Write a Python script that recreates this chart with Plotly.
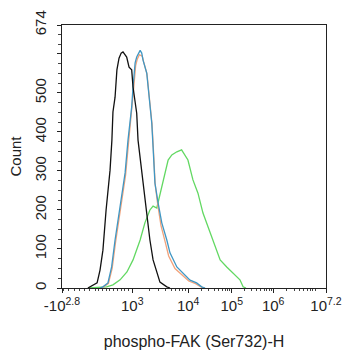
import numpy as np
import plotly.graph_objects as go

# Histogram curves on the biexponential display scale (channel 0..1000), counts per bin
black_ch = [98, 133, 144, 155, 167, 174, 182, 189, 193, 201, 208, 216, 224, 231,
            238, 245, 254, 264, 269, 283, 288, 302, 314, 326, 333, 345, 359, 371, 397, 409]
black_ct = [0, 13, 46, 97, 200, 251, 302, 379, 451, 489, 559, 589, 602, 605,
            598, 592, 566, 559, 515, 448, 379, 295, 226, 156, 123, 72, 38, 15, 3, 0]

blue_ch = [144, 155, 174, 188, 201, 220, 239, 250, 254, 264, 269, 277, 283, 292, 296,
           302, 307, 321, 330, 340, 345, 352, 364, 378, 397, 409, 435, 458, 485, 510, 529, 542]
blue_ct = [0, 3, 13, 54, 123, 208, 295, 379, 405, 464, 515, 577, 592, 607, 609,
           602, 584, 551, 489, 423, 361, 269, 218, 167, 123, 90, 54, 38, 20, 13, 3, 0]

orange_ch = [146, 158, 176, 190, 203, 222, 241, 252, 256, 266, 271, 279, 285, 293, 298,
             304, 309, 322, 331, 341, 346, 353, 363, 375, 392, 404, 428, 452, 480, 506, 526, 540]
orange_ct = [0, 3, 12, 50, 118, 203, 290, 372, 400, 458, 508, 570, 586, 598, 596,
             594, 580, 548, 487, 420, 358, 265, 212, 160, 115, 82, 50, 35, 18, 11, 3, 0]

green_ch = [100, 169, 193, 220, 246, 269, 296, 314, 333, 345, 359, 371, 383, 402, 416,
            435, 453, 466, 477, 496, 515, 534, 548, 572, 599, 624, 648, 674, 686, 697]
green_ct = [0, 3, 8, 21, 41, 72, 123, 167, 200, 210, 205, 238, 277, 328, 341,
            349, 354, 341, 328, 277, 243, 192, 167, 123, 72, 54, 38, 21, 3, 0]

# Axis ticks
x_tick_ch = [0, 266, 478, 643, 800, 1000]
x_tick_text = ["-10<sup>2.8</sup>", "10<sup>3</sup>", "10<sup>4</sup>",
               "10<sup>5</sup>", "10<sup>6</sup>", "10<sup>7.2</sup>"]
y_tick_vals = [0, 100, 200, 300, 400, 500, 600, 674]
y_tick_text = ["0", "100", "200", "300", "400", "500", "", "674"]

# decade anchors of the display scale (value -> channel)
decade_vals = [1e3, 1e4, 1e5, 1e6, 10 ** 7.2]
decade_ch = [266, 478, 643, 800, 1000]


def to_channel(v):
    """Map an intensity onto the display channel (linear near zero, log above 10^3)."""
    if v < 1e3:
        lo, zero_ch = -10 ** 2.8, 125.0
        if v <= 0:
            return zero_ch * (v - lo) / (0 - lo)
        return zero_ch + (decade_ch[0] - zero_ch) * v / 1e3
    return float(np.interp(np.log10(v), np.log10(decade_vals), decade_ch))


minor_vals = [-600, -500, -400, -300, -200, -100, 100, 200, 300, 400, 500, 600, 700, 800, 900]
for k in range(3, 7):
    for m in range(2, 10):
        v = m * 10 ** k
        if v < 10 ** 7.2:
            minor_vals.append(v)
minor_ch = [to_channel(v) for v in minor_vals] + [to_channel(0)]

fig = go.Figure()
series = [
    (green_ch, green_ct, "#62d862"),
    (orange_ch, orange_ct, "#f2a27a"),
    (blue_ch, blue_ct, "#3f97c4"),
    (black_ch, black_ct, "#111111"),
]
for xs, ys, col in series:
    fig.add_trace(go.Scatter(x=xs, y=ys, mode="lines",
                             line=dict(color=col, width=1.3, shape="linear"),
                             hoverinfo="skip", showlegend=False))

tick_font = dict(family="Liberation Sans, Arial, sans-serif", size=15, color="#222222")
title_font = dict(family="Liberation Sans, Arial, sans-serif", size=16, color="#222222")

fig.update_layout(
    width=342, height=350,
    margin=dict(l=62, r=16, t=25, b=62),
    paper_bgcolor="white", plot_bgcolor="white",
    font=tick_font,
    xaxis=dict(
        range=[0, 1000], tickmode="array", tickvals=x_tick_ch, ticktext=x_tick_text,
        showgrid=False, zeroline=False, showline=True, mirror=True,
        linecolor="#222222", linewidth=1.3, automargin=False,
        ticks="outside", ticklen=4, tickwidth=1, tickcolor="#222222",
        minor=dict(tickmode="array", tickvals=minor_ch, ticks="outside",
                   ticklen=2, tickwidth=1, tickcolor="#444444"),
        tickfont=tick_font,
        title=dict(text="phospho-FAK (Ser732)-H", font=title_font, standoff=22),
    ),
    yaxis=dict(
        range=[0, 674], tickmode="array", tickvals=y_tick_vals, ticktext=y_tick_text,
        tickangle=-90,
        showgrid=False, zeroline=False, showline=True, mirror=True,
        linecolor="#222222", linewidth=1.3, automargin=False,
        ticks="outside", ticklen=4, tickwidth=1, tickcolor="#222222",
        ticklabelstandoff=5,
        minor=dict(dtick=25, tick0=0, ticks="outside", ticklen=3,
                   tickwidth=1, tickcolor="#444444"),
        tickfont=tick_font,
        title=dict(text="Count", font=dict(tick_font), standoff=6),
    ),
)

fig.write_html("out.html")
